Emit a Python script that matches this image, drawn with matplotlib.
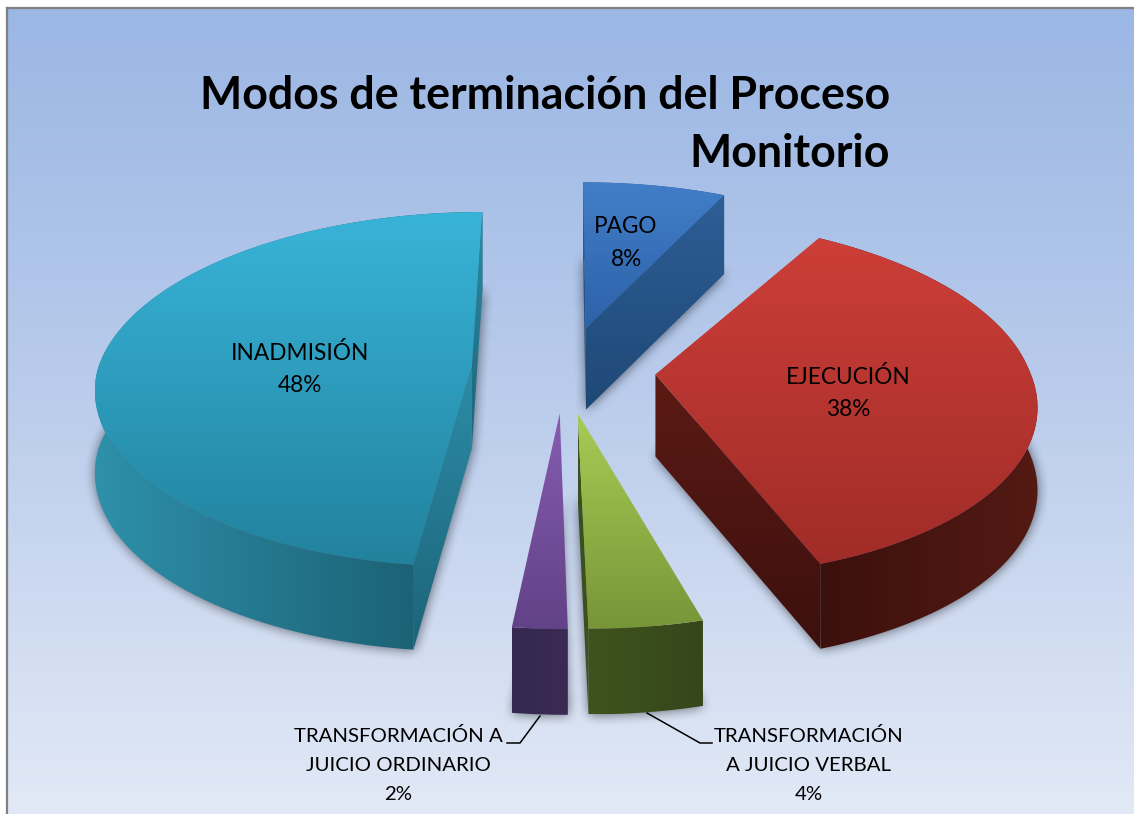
import numpy as np
import matplotlib
matplotlib.use("Agg")
import matplotlib.pyplot as plt
from matplotlib.colors import LinearSegmentedColormap
from matplotlib.patches import Polygon
from matplotlib.path import Path

# datos
labels = ["PAGO", "EJECUCIÓN", "TRANSFORMACIÓN\nA JUICIO VERBAL",
          "TRANSFORMACIÓN A\nJUICIO ORDINARIO", "INADMISIÓN"]
values = [8, 38, 4, 2, 48]
title = "Modos de terminación del Proceso\nMonitorio"

W, H = 1134, 814

# proyeccion en perspectiva (pixeles)
CX, CY = 563.5, 369
RX, RY = 374, 175
PERSP = 0.13
EXPLODE = 0.246
WALL = 82
SHEAR = 9
# correccion de angulos del pastel 3D (grados: inicio, fin)
TWEAK = [(0, -3.2), (2.0, -5.2), (-0.6, 0), (0, 0), (0, 0)]


def project(x, y):
    w = 1 + PERSP * y
    return CX + RX * x / w - SHEAR * np.minimum(y, 0), CY - RY * y / w


def wall_h(y):
    return WALL / (1 + 0.035 * y)


def rgb(*c):
    return [v / 255 for v in c]


def area(pts):
    p = np.asarray(pts)
    q = np.roll(p, -1, axis=0)
    return np.sum(p[:, 0] * q[:, 1] - q[:, 0] * p[:, 1])


def fill_grad(ax, pts, c0, c1, vertical=True):
    # poligono con degradado
    pts = np.asarray(pts)
    x0, y0 = pts.min(axis=0)
    x1, y1 = pts.max(axis=0)
    cmap = LinearSegmentedColormap.from_list("g", [rgb(*c0), rgb(*c1)])
    grad = np.linspace(0, 1, 128)
    grad = grad[:, None] if vertical else grad[None, :]
    im = ax.imshow(grad, cmap=cmap, extent=(x0, x1, y1, y0), aspect="auto", zorder=ax.zo, vmin=0, vmax=1)
    patch = Polygon(pts, closed=True, transform=ax.transData)
    im.set_clip_path(patch)
    ax.zo += 1


# colores: cara superior, pared curva (izq, der), pared recta (arriba, abajo)
top_cols = [((66, 126, 200), (44, 98, 168)), ((205, 62, 56), (160, 44, 40)), ((168, 204, 84), (118, 150, 56)),
            ((134, 92, 176), (98, 66, 136)), ((56, 180, 216), (34, 130, 158))]
arc_cols = [((40, 88, 142), (36, 80, 130)), ((60, 16, 12), (84, 26, 20)), ((62, 84, 30), (54, 70, 26)),
            ((54, 40, 80), (58, 42, 84)), ((46, 144, 170), (24, 88, 106))]
side_cols = [((46, 94, 150), (30, 72, 118)), ((92, 26, 20), (60, 16, 14)), ((60, 80, 30), (60, 80, 30)),
             ((54, 40, 80), (54, 40, 80)), ((44, 140, 166), (28, 100, 122))]

fig = plt.figure(figsize=(W / 100, H / 100), dpi=100, facecolor="white")
ax = fig.add_axes([0, 0, 1, 1])
ax.zo = 1
ax.set_axis_off()

# fondo
bg = LinearSegmentedColormap.from_list("bg", [rgb(155, 183, 228), rgb(176, 197, 233), rgb(200, 214, 239), rgb(226, 233, 246)])
ax.imshow(np.linspace(0, 1, 256)[:, None], cmap=bg, extent=(8, W, H, 9), aspect="auto", zorder=0)
ax.plot([7, 7], [H, 8], color="#808080", lw=1.6, zorder=0.5)
ax.plot([7, W], [8, 8], color="#808080", lw=1.6, zorder=0.5)

# geometria de las porciones
frac = np.array(values) / sum(values) * 2 * np.pi
ends = np.cumsum(frac)
starts = ends - frac
gx, gy = np.meshgrid(np.arange(W), np.arange(H))
grid = np.column_stack([gx.ravel(), gy.ravel()])
shadow = np.zeros((H, W))
slices = []
for a0, a1, tw in zip(starts, ends, TWEAK):
    mid = (a0 + a1) / 2
    ox, oy = EXPLODE * np.sin(mid), EXPLODE * np.cos(mid)
    t = np.linspace(a0 + np.radians(tw[0]), a1 + np.radians(tw[1]), 120)
    ax_, ay_ = ox + np.sin(t), oy + np.cos(t)
    sx, sy = project(ax_, ay_)
    tx, ty = project(ox, oy)
    arc_top = np.column_stack([sx, sy])
    arc_bot = np.column_stack([sx, sy + wall_h(ay_)])
    tip_top = np.array([tx, ty])
    tip_bot = np.array([tx, ty + wall_h(oy)])
    slices.append((arc_top, arc_bot, tip_top, tip_bot, oy))
    bottom = np.vstack([tip_bot, arc_bot])
    shadow += Path(bottom).contains_points(grid).reshape(H, W)

# sombra difusa bajo las porciones
kernel = np.ones(13) / 13
shadow = np.clip(shadow, 0, 1)
for _ in range(2):
    shadow = np.apply_along_axis(lambda r: np.convolve(r, kernel, mode="same"), 0, shadow)
    shadow = np.apply_along_axis(lambda r: np.convolve(r, kernel, mode="same"), 1, shadow)
rgba = np.zeros((H, W, 4))
rgba[..., 3] = shadow * 0.55
ax.imshow(rgba, extent=(0, W, H, 0), aspect="auto", zorder=0.8)

# de atras hacia adelante
order = np.argsort([-s[4] for s in slices])
for i in order:
    arc_top, arc_bot, tip_top, tip_bot, _ = slices[i]
    ax.zo = 10 + 10 * list(order).index(i)
    fill_grad(ax, np.vstack([arc_top, arc_bot[::-1]]), *arc_cols[i], vertical=False)
    # solo las paredes rectas que miran a la camara
    start_wall = [tip_top, arc_top[0], arc_bot[0], tip_bot]
    end_wall = [tip_top, arc_top[-1], arc_bot[-1], tip_bot]
    if area(start_wall) < 0:
        fill_grad(ax, start_wall, *side_cols[i])
    if area(end_wall) > 0:
        fill_grad(ax, end_wall, *side_cols[i])
    fill_grad(ax, np.vstack([tip_top, arc_top]), *top_cols[i])

# textos
ax.text(890, 125, title, ha="right", va="center", fontsize=32.2, fontweight="bold", family="Lato",
        color="black", linespacing=1.47, zorder=100)
in_kw = dict(ha="center", va="center", fontsize=16.3, family="Lato", color="black", linespacing=1.66, zorder=100)
out_kw = dict(ha="center", va="center", fontsize=14.65, family="Lato", color="black", linespacing=1.86, zorder=100)
ax.text(626, 243, f"{labels[0]}\n{values[0]}%", **in_kw)
ax.text(848, 393, f"{labels[1]}\n{values[1]}%", **in_kw)
ax.text(809, 765, f"{labels[2]}\n{values[2]}%", **out_kw)
ax.text(398, 765, f"{labels[3]}\n{values[3]}%", **out_kw)
ax.text(300, 369, f"{labels[4]}\n{values[4]}%", **in_kw)
ax.plot([540, 520, 507], [716, 743, 743], color="black", lw=1.1, zorder=100)
ax.plot([647, 700, 712], [713, 743, 743], color="black", lw=1.1, zorder=100)

ax.set_xlim(0, W)
ax.set_ylim(H, 0)
fig.savefig("out.png", dpi=100)
